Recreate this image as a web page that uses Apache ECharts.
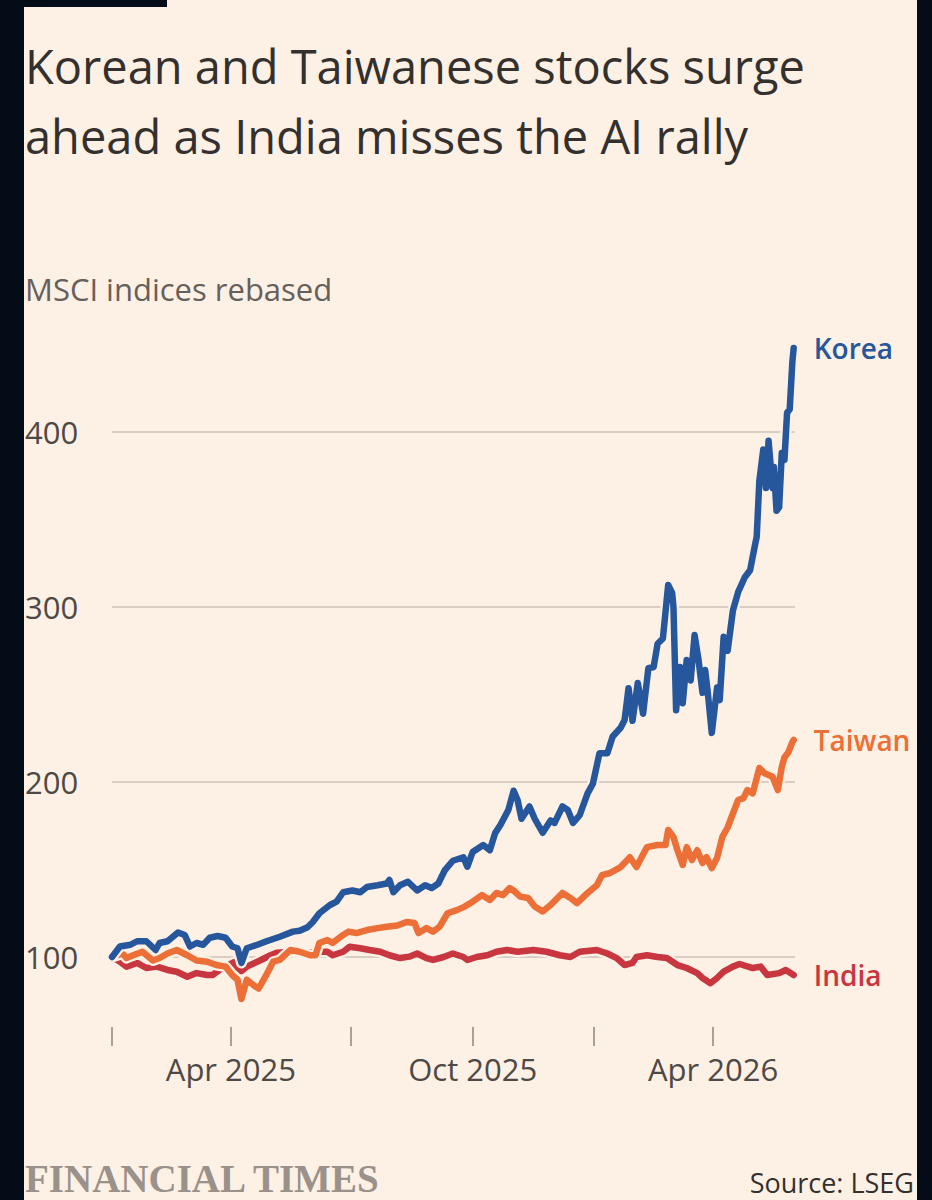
<!DOCTYPE html>
<html><head><meta charset="utf-8">
<script src="https://cdn.jsdelivr.net/npm/echarts@6/dist/echarts.min.js"></script>
<style>
html,body{margin:0;padding:0;background:#fdf0e5;}
#chart{position:absolute;left:0;top:0;width:932px;height:1200px;}
.strip{position:absolute;background:#040c18;}
</style></head><body>
<div id="chart"></div>
<div class="strip" style="left:0;top:0;width:24px;height:1200px"></div>
<div class="strip" style="left:917px;top:0;width:15px;height:1200px"></div>
<div class="strip" style="left:24px;top:0;width:143px;height:7px"></div>
<script>
// Data: [days since 1 Jan 2025, index value (rebased = 100)]
const korea = [[0,100],[6,106],[14,107],[19,109],[26,109],[33,104],[36,108],[42,109],[50,114],[55,112.6],[59,106],[64,108],[69,107],[74,111],[80,112],[86,111],[91,106],[95,105],[98,96.6],[102,105],[110,107],[117,109],[127,111.6],[137,114.5],[142,115],[148,117],[152,120],[157,125],[165,129.7],[170,131.6],[175,137],[182,138],[188,137],[193,140],[201,141],[208,142],[210,144],[213,137],[218,141],[224,143],[231,138],[237,141],[242,139.4],[247,142],[252,149.7],[258,155],[266,157],[269,151.6],[273,160],[281,164],[286,161],[290,170.8],[294,175.4],[300,184],[304,195],[307,189.7],[310,179],[316,186],[320,179],[326,171],[332,178],[335,176.6],[341,186],[345,184],[349,176.6],[354,181],[360,193.5],[364,199],[369,216.5],[375,216.5],[379,226],[385,231],[388,235.4],[391,253.6],[394,235],[398,256.6],[402,239],[406,265],[410,265.7],[413,279],[417,282],[421,312.6],[424,308],[425,300],[427,241],[430,265.7],[432,245],[435,269.7],[438,258],[441,284],[444,269.7],[447,251],[449,264],[451,251],[454,228],[458,254],[460,246.8],[463,283],[466,275],[470,298],[474,308.6],[479,317],[483,321],[487,336.5],[488,340],[490,372],[493,390],[495,368],[497,395],[500,368],[501,380],[503,355],[505,357],[507,388],[509,384],[511,411],[513,413],[515,440],[516,448]];
const taiwan = [[0,100],[8,102],[11,99.4],[16,101],[23,103],[31,98],[36,99.4],[42,102],[49,104],[57,101],[64,98],[72,97.3],[79,95.4],[86,94.5],[91,89.7],[95,87],[98,76],[102,87],[107,84],[111,82],[116,88.6],[122,97.3],[127,98.3],[135,104],[142,103],[150,101],[154,101],[157,108],[163,109.7],[167,108],[173,111.6],[179,114.5],[185,113.7],[193,115.4],[201,116.5],[208,117.3],[216,118],[223,120],[229,119.4],[232,113.7],[238,116.5],[243,114.5],[248,117.3],[254,125],[261,126.8],[267,128.8],[273,131.6],[280,135.4],[286,132.6],[291,136.6],[296,135.4],[301,139.4],[304,138],[309,134.5],[315,133.7],[320,128.8],[326,126],[332,129.7],[341,136.6],[347,133.7],[352,130.8],[360,136.6],[367,141],[371,146.8],[377,148],[385,151.4],[392,157],[397,151.4],[405,162.8],[413,164],[419,164],[421,172.6],[425,168.6],[428,161],[432,152.6],[435,162.8],[439,155.4],[443,161],[447,153.7],[450,157],[454,150.8],[458,156.6],[462,168.6],[466,174],[470,182],[474,189.7],[478,190.8],[481,195.4],[485,193.5],[490,208],[494,205],[500,203],[504,195.4],[507,208.6],[509,214],[512,217],[515,222.8],[516,224]];
const india = [[0,100],[6,97.3],[11,94.5],[19,96.6],[26,93.7],[34,94.5],[42,92.6],[49,91.6],[57,88.7],[64,90.8],[72,89.7],[76,89.7],[82,93],[87,95],[92,97],[95,94],[98,92],[102,94.5],[112,98],[120,101],[125,102.5],[135,103],[146,102],[154,103],[163,103],[167,101],[175,103],[180,105.9],[188,105],[195,104],[203,103],[210,101],[218,99.4],[225,100.2],[231,102],[238,99.4],[243,98.3],[251,100],[258,102],[266,100],[269,98.3],[276,100],[284,101],[291,103],[299,104],[307,103],[319,104],[329,103],[339,101],[347,100],[354,103],[367,104],[375,102],[382,99.4],[388,95.4],[394,96.6],[397,100],[405,101],[413,100],[420,99.4],[428,95.4],[435,93.7],[443,90.8],[447,88],[453,85],[458,88],[463,91.6],[470,94.5],[475,96],[485,93.7],[491,94.5],[496,89.7],[505,90.8],[510,92.6],[516,89.7]];
const tickDates = ['2025-01-01','2025-04-01','2025-07-01','2025-10-01','2026-01-01','2026-04-01'];
const labelDates = ['2025-04-01','2025-10-01','2026-04-01'];
const monthNames = ['Jan','Feb','Mar','Apr','May','Jun','Jul','Aug','Sep','Oct','Nov','Dec'];

const DAY = 86400000;
const base = new Date(2025,0,1).getTime();
const parseD = s => { const p = s.split('-').map(Number); return new Date(p[0], p[1]-1, p[2]).getTime(); };
const toTs = arr => arr.map(d => [base + d[0]*DAY, d[1]]);
const BG = '#fdf0e5';
const FONT = '"Open Sans", "Noto Sans", sans-serif';

function halo(name, data){
  return {type:'line', name: name+'-halo', data: toTs(data), showSymbol:false, symbol:'none', silent:true,
    lineStyle:{width:11, color:BG, cap:'round', join:'round'}};
}
function main(name, data, color){
  return {type:'line', name, data: toTs(data), showSymbol:false, symbol:'none', silent:true,
    lineStyle:{width:6.5, color, cap:'round', join:'round'}, itemStyle:{color},
    endLabel:{show:true, formatter:name, color, fontSize:28, fontWeight:600, fontFamily:FONT, distance:20}};
}

const chart = echarts.init(document.getElementById('chart'), null, {renderer:'svg'});
chart.setOption({
  backgroundColor: BG,
  animation:false,
  title:[
    {text:'Korean and Taiwanese stocks surge\nahead as India misses the AI rally', left:25, top:31, padding:0,
     textStyle:{fontSize:47, lineHeight:70, fontWeight:'normal', color:'#33302e', fontFamily:FONT}},
    {text:'MSCI indices rebased', left:25, top:273, padding:0,
     textStyle:{fontSize:31, fontWeight:'normal', color:'#66605c', fontFamily:FONT}},
    {text:'FINANCIAL TIMES', left:25, top:1158, padding:0,
     textStyle:{fontSize:39, lineHeight:40, fontWeight:'bold', color:'#9a918a', fontFamily:'"Liberation Serif", "DejaVu Serif", serif'}},
    {text:'Source: LSEG', right:18, top:1169, padding:0,
     textStyle:{fontSize:27, fontWeight:'normal', color:'#33302e', fontFamily:FONT}}
  ],
  grid:{left:112, right:137, top:327, height:700, containLabel:false, outerBoundsMode:'none'},
  xAxis:{type:'value', min:base, max:base+517*DAY,
    axisLine:{show:false},
    axisTick:{show:true, inside:false, length:19, lineStyle:{color:'#8c8681', width:1.5}, customValues: tickDates.map(parseD)},
    axisLabel:{customValues: labelDates.map(parseD), margin:26, fontSize:31, color:'#4e4945', fontFamily:FONT,
      formatter: v => { const d = new Date(v); return monthNames[d.getMonth()] + ' ' + d.getFullYear(); }},
    splitLine:{show:false}},
  yAxis:{type:'value', min:60, max:460,
    axisLine:{show:false}, axisTick:{show:false},
    axisLabel:{align:'left', margin:87, fontSize:31, color:'#4e4945', fontFamily:FONT,
      formatter: v => (v % 100 === 0 ? String(v) : '')},
    splitLine:{show:true, showMinLine:false, showMaxLine:false, lineStyle:{color:'#cdc2b8', width:1.5}}},
  series:[
    halo('India', india), main('India', india, '#c8373f'),
    halo('Taiwan', taiwan), main('Taiwan', taiwan, '#eb6f36'),
    halo('Korea', korea), main('Korea', korea, '#26569b')
  ]
});
</script></body></html>
